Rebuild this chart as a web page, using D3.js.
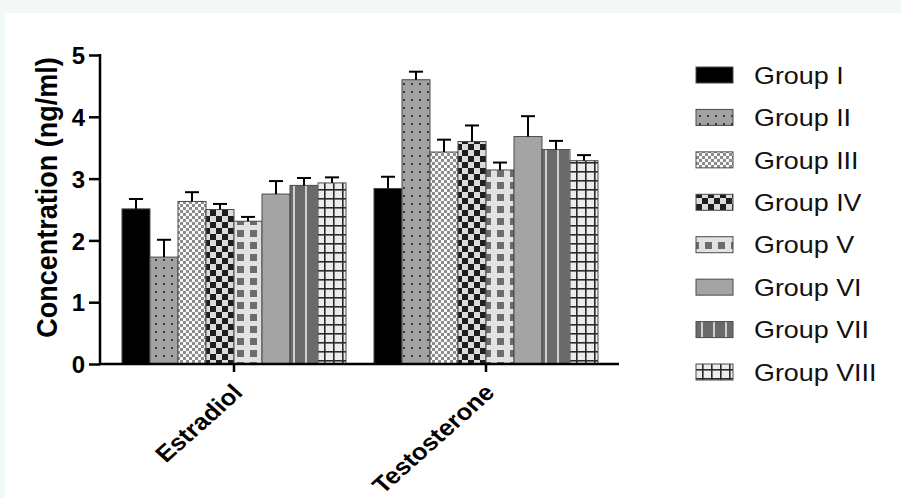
<!DOCTYPE html>
<html><head><meta charset="utf-8">
<script src="https://cdn.jsdelivr.net/npm/d3@7"></script>
<style>
html,body{margin:0;padding:0;background:#f1f8f7;}
svg{display:block;}
text{font-family:"Liberation Sans",Arial,Helvetica,sans-serif;}
</style></head>
<body>
<svg id="chart" width="901" height="498"></svg>
<script>
const categories = ["Estradiol", "Testosterone"];
const groups = ["Group I","Group II","Group III","Group IV","Group V","Group VI","Group VII","Group VIII"];
const estradiolMean = [2.51, 1.73, 2.63, 2.50, 2.31, 2.75, 2.89, 2.93];
const estradiolSEM  = [0.16, 0.28, 0.15, 0.09, 0.07, 0.21, 0.12, 0.09];
const testosteroneMean = [2.84, 4.60, 3.43, 3.60, 3.14, 3.68, 3.47, 3.29];
const testosteroneSEM  = [0.19, 0.13, 0.20, 0.26, 0.12, 0.33, 0.14, 0.09];
const yTicks = [0, 1, 2, 3, 4, 5];

const meansByCat = {"Estradiol": estradiolMean, "Testosterone": testosteroneMean};
const semByCat = {"Estradiol": estradiolSEM, "Testosterone": testosteroneSEM};
const data = [];
categories.forEach(c => groups.forEach((g, i) => data.push({cat: c, group: g, mean: meansByCat[c][i], sem: semByCat[c][i], idx: i})));

const svg = d3.select("#chart");
svg.append("rect").attr("x", 5).attr("y", 13).attr("width", 901).attr("height", 498).attr("fill", "#fff");

const defs = svg.append("defs");
function pat(id, w, h, draw) {
  const p = defs.append("pattern").attr("id", id).attr("patternUnits", "userSpaceOnUse")
    .attr("width", w).attr("height", h);
  draw(p);
}
pat("p1", 4, 4, p => p.append("rect").attr("width", 4).attr("height", 4).attr("fill", "#000"));
pat("p2", 8, 8, p => {
  p.append("rect").attr("width", 8).attr("height", 8).attr("fill", "#a2a2a2");
  p.append("rect").attr("x", 3).attr("y", 3).attr("width", 2).attr("height", 2).attr("fill", "#3a3a3a");
});
pat("p3", 6, 6, p => {
  p.append("rect").attr("width", 6).attr("height", 6).attr("fill", "#fafafa");
  p.append("rect").attr("x", 0).attr("y", 0).attr("width", 3).attr("height", 3).attr("fill", "#8c8c8c");
  p.append("rect").attr("x", 3).attr("y", 3).attr("width", 3).attr("height", 3).attr("fill", "#8c8c8c");
});
pat("p4", 12, 12, p => {
  p.append("rect").attr("width", 12).attr("height", 12).attr("fill", "#dcdcdc");
  p.append("rect").attr("x", 0).attr("y", 0).attr("width", 6).attr("height", 6).attr("fill", "#1e1e1e");
  p.append("rect").attr("x", 6).attr("y", 6).attr("width", 6).attr("height", 6).attr("fill", "#1e1e1e");
});
pat("p5", 13, 12, p => {
  p.append("rect").attr("width", 13).attr("height", 12).attr("fill", "#e2e2e2");
  p.append("rect").attr("x", 3).attr("y", 2).attr("width", 7).attr("height", 7).attr("fill", "#6c6c6c");
});
pat("p6", 4, 4, p => p.append("rect").attr("width", 4).attr("height", 4).attr("fill", "#a4a4a4"));
pat("p7", 12, 4, p => {
  p.append("rect").attr("width", 12).attr("height", 4).attr("fill", "#6a6a6a");
  p.append("rect").attr("x", 5).attr("y", 0).attr("width", 2).attr("height", 4).attr("fill", "#cfcfcf");
});
pat("p8", 9, 9, p => {
  p.append("rect").attr("width", 9).attr("height", 9).attr("fill", "#ececec");
  p.append("rect").attr("x", 0).attr("y", 0).attr("width", 9).attr("height", 1.6).attr("fill", "#2a2a2a");
  p.append("rect").attr("x", 0).attr("y", 0).attr("width", 1.6).attr("height", 9).attr("fill", "#2a2a2a");
});
const fills = d3.scaleOrdinal().domain(groups).range(["p1","p2","p3","p4","p5","p6","p7","p8"].map(s => `url(#${s})`));

const x0 = d3.scaleBand().domain(categories).range([108, 612]).paddingInner(0.111).paddingOuter(0.0555);
const x1 = d3.scaleBand().domain(groups).range([0, x0.bandwidth()]);
const y = d3.scaleLinear().domain([0, 5]).range([364, 55]);

const TEXT_SX = 1.12;

const g = svg.append("g");
g.selectAll("rect.bar").data(data).join("rect")
  .attr("class", "bar")
  .attr("x", d => x0(d.cat) + x1(d.group))
  .attr("y", d => y(d.mean))
  .attr("width", x1.bandwidth())
  .attr("height", d => y(0) - y(d.mean))
  .attr("fill", d => fills(d.group))
  .attr("stroke", "#4a4a4a").attr("stroke-width", 1);

const eb = g.selectAll("g.err").data(data).join("g").attr("class", "err")
  .attr("stroke", "#000").attr("stroke-width", 2);
eb.append("line")
  .attr("x1", d => x0(d.cat) + x1(d.group) + x1.bandwidth()/2)
  .attr("x2", d => x0(d.cat) + x1(d.group) + x1.bandwidth()/2)
  .attr("y1", d => y(d.mean)).attr("y2", d => y(d.mean + d.sem));
eb.append("line")
  .attr("x1", d => x0(d.cat) + x1(d.group) + x1.bandwidth()/2 - 7)
  .attr("x2", d => x0(d.cat) + x1(d.group) + x1.bandwidth()/2 + 7)
  .attr("y1", d => y(d.mean + d.sem)).attr("y2", d => y(d.mean + d.sem));

// y axis
const yAxis = svg.append("g").attr("transform", "translate(100,0)")
  .call(d3.axisLeft(y).tickValues(yTicks).tickSize(11).tickSizeOuter(0).tickFormat(d3.format("d")));
yAxis.select(".domain").attr("stroke-width", 2.5).attr("d", `M0,${y(5)-1}V${y(0)+1}`);
yAxis.selectAll(".tick line").attr("stroke-width", 2.5);
yAxis.selectAll(".tick text").attr("font-size", 24).attr("font-weight", "bold").attr("fill", "#000")
  .attr("x", -15).attr("dy", "0.36em");

// x axis
const xAxis = svg.append("g").attr("transform", `translate(0,${y(0)})`)
  .call(d3.axisBottom(x0).tickSize(8).tickSizeOuter(0));
xAxis.select(".domain").attr("stroke-width", 2.5).attr("d", "M99,0H619");
xAxis.selectAll(".tick line").attr("stroke-width", 2.5);
xAxis.selectAll(".tick text").attr("font-size", 23).attr("font-weight", "bold").attr("fill", "#000")
  .attr("text-anchor", "end").attr("y", 0).attr("dy", 0)
  .attr("transform", `translate(10,30) scale(${TEXT_SX},1) rotate(-45)`);

// y label
svg.append("text").attr("text-anchor", "middle").attr("font-size", 27).attr("font-weight", "bold")
  .attr("transform", `translate(57,${(y(0)+y(5))/2-12}) scale(${TEXT_SX},1) rotate(-90)`)
  .text("Concentration (ng/ml)");

// legend
const leg = svg.append("g");
const ly = d3.scalePoint().domain(groups).range([75, 372]);
leg.selectAll("rect").data(groups).join("rect")
  .attr("x", 696).attr("y", d => ly(d) - 8).attr("width", 37).attr("height", 16)
  .attr("fill", d => fills(d)).attr("stroke", "#4a4a4a").attr("stroke-width", 1);
leg.selectAll("text").data(groups).join("text")
  .attr("transform", d => `translate(754,${ly(d)}) scale(${TEXT_SX},1)`)
  .attr("dy", "0.36em").attr("font-size", 24).attr("fill", "#111")
  .text(d => d);
</script>
</body></html>
